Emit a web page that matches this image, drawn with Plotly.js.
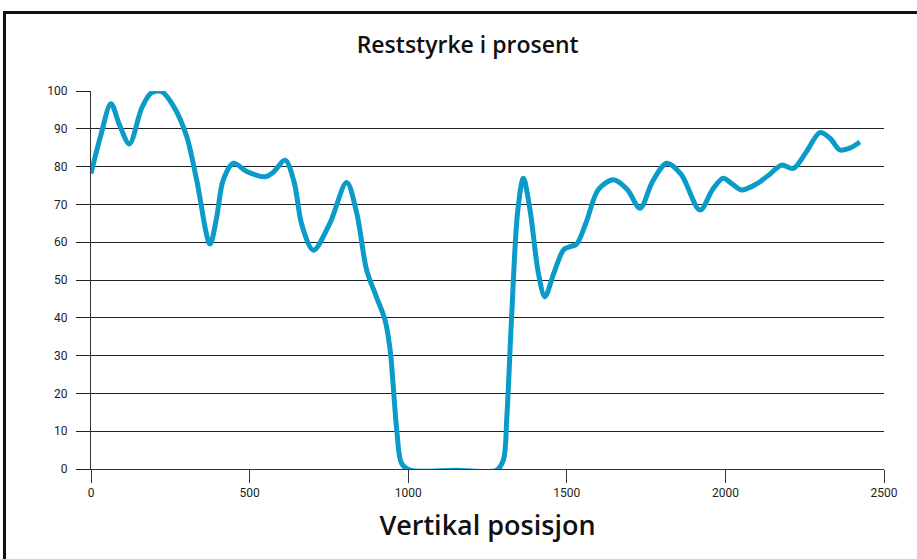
<!DOCTYPE html>
<html>
<head>
<meta charset="utf-8">
<script src="https://cdn.plot.ly/plotly-3.0.1.min.js"></script>
<style>
html,body{margin:0;padding:0;width:917px;height:559px;overflow:hidden;background:#fff;}
#chart{position:absolute;left:0;top:0;width:917px;height:559px;}
#frame{position:absolute;left:3px;top:11px;width:940px;height:600px;border:3px solid #111;pointer-events:none;box-sizing:border-box;}
</style>
</head>
<body>
<div id="chart"></div>
<div id="frame"></div>
<script>
const chartTitle = "Reststyrke i prosent";
const xTitle = "Vertikal posisjon";
const xTicks = [0, 500, 1000, 1500, 2000, 2500];
const yTicks = [0, 10, 20, 30, 40, 50, 60, 70, 80, 90, 100];

const position = [0, 30, 63, 90, 121, 160, 190, 223, 260, 302, 333, 375, 395, 417, 449, 491, 549, 575, 612, 640, 665, 701, 753, 806, 838, 869, 900, 927, 943, 964, 979, 1006, 1150, 1279, 1300, 1311, 1326, 1345, 1363, 1385, 1410, 1431, 1460, 1490, 1510, 1531, 1560, 1600, 1647, 1690, 1731, 1770, 1815, 1860, 1920, 1960, 1993, 2020, 2051, 2100, 2140, 2177, 2214, 2256, 2298, 2330, 2361, 2395, 2424];
const strength = [78.2, 88, 96.6, 91, 86, 95.5, 99.5, 99.8, 96, 87.9, 76.5, 59.5, 66, 76.5, 80.9, 78.7, 77.3, 78.5, 81.7, 76, 64.5, 57.9, 65, 75.8, 67.6, 52.6, 45.5, 39.4, 31.5, 10.3, 1.5, -0.3, -0.3, -0.3, 2.4, 13.8, 40.3, 68, 76.9, 68, 52, 45.6, 52, 58, 58.8, 59.5, 65, 74, 76.5, 74, 69, 76, 80.9, 78, 68.5, 74, 76.9, 75.5, 73.8, 75.5, 78, 80.4, 79.5, 84, 89, 87.5, 84.4, 85, 86.5];

const tickFont = {family: "Roboto, sans-serif", size: 12, color: "#222"};

Plotly.newPlot("chart", [{
  x: position,
  y: strength,
  type: "scatter",
  mode: "lines",
  line: {color: "#0b9bc8", width: 5, shape: "spline", smoothing: 0.9},
  cliponaxis: false,
  hoverinfo: "skip"
}], {
  width: 917,
  height: 559,
  margin: {l: 91, r: 33, t: 91, b: 90},
  paper_bgcolor: "#fff",
  plot_bgcolor: "#fff",
  showlegend: false,
  title: {
    text: chartTitle,
    font: {family: "Open Sans, sans-serif", size: 23, color: "#111", weight: 600},
    xref: "container", x: 0.51, xanchor: "center",
    yref: "container", y: 0.92, yanchor: "middle"
  },
  xaxis: {
    range: [0, 2500],
    tickvals: xTicks,
    ticktext: xTicks.map(String),
    showgrid: false,
    zeroline: false,
    showline: true, linecolor: "#333", linewidth: 1,
    ticks: "outside", ticklen: 13, tickcolor: "#333", tickwidth: 1,
    tickfont: tickFont,
    title: {text: xTitle, font: {family: "Open Sans, sans-serif", size: 27, color: "#111", weight: 600}, standoff: 16},
    fixedrange: true
  },
  yaxis: {
    range: [0, 100],
    tickvals: yTicks,
    ticktext: yTicks.map(String),
    showgrid: true, gridcolor: "#222", gridwidth: 1,
    zeroline: false,
    showline: true, linecolor: "#333", linewidth: 1,
    ticks: "outside", ticklen: 14, tickcolor: "#222", tickwidth: 1,
    tickfont: tickFont,
    ticklabelstandoff: 6,
    fixedrange: true
  }
}, {displayModeBar: false, staticPlot: true});
</script>
</body>
</html>
